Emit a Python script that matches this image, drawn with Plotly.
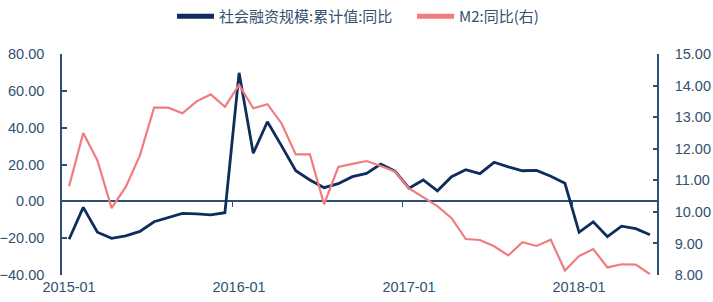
import plotly.graph_objects as go

months = [f"{y}-{m:02d}" for y in range(2015, 2019) for m in range(1, 13)][:42]
tick_labels = ["2015-01", "2016-01", "2017-01", "2018-01"]

tsf_yoy = [-20.6, -3.3, -16.8, -20.1, -18.7, -16.3, -11.1, -8.7, -6.5, -6.8,
           -7.4, -6.2, 69.8, 26.1, 43.2, 30.1, 16.6, 11.6, 7.4, 9.6,
           13.4, 15.2, 20.2, 16.4, 7.1, 11.6, 5.7, 13.4, 17.2, 15.0,
           21.2, 18.7, 16.6, 16.8, 13.6, 9.8, -16.8, -11.1, -19.2, -13.5,
           -14.8, -18.1]

m2_yoy = [10.81, 12.50, 11.63, 10.12, 10.79, 11.79, 13.30, 13.30, 13.12, 13.50,
          13.72, 13.33, 14.02, 13.28, 13.41, 12.80, 11.82, 11.82, 10.24, 11.42,
          11.52, 11.61, 11.45, 11.28, 10.74, 10.47, 10.18, 9.80, 9.14, 9.11,
          8.91, 8.62, 9.04, 8.92, 9.12, 8.14, 8.60, 8.82, 8.24, 8.34,
          8.33, 8.03]

name_tsf = "社会融资规模:累计值:同比"
name_m2 = "M2:同比(右)"

NAVY = "#0E2D5C"
PINK = "#F07C7E"
AXIS = "#2D5079"
TEXT = "#34506F"
NUMFONT = "Liberation Sans Narrow, Arial Narrow, Liberation Sans, Arial"
CJKFONT = "Noto Sans CJK SC, Liberation Sans, sans-serif"

idx = list(range(len(months)))
tick_idx = [months.index(t) for t in tick_labels]
boundary_idx = [i - 0.5 for i in tick_idx[1:]]

fig = go.Figure()
fig.add_trace(go.Scatter(x=idx, y=m2_yoy, mode="lines", name=name_m2,
                         line=dict(color=PINK, width=2.2), yaxis="y2",
                         showlegend=False, hoverinfo="skip"))
fig.add_trace(go.Scatter(x=idx, y=tsf_yoy, mode="lines", name=name_tsf,
                         line=dict(color=NAVY, width=2.8),
                         showlegend=False))
# legend entries with thicker swatches
fig.add_trace(go.Scatter(x=[None], y=[None], mode="lines", name=name_tsf,
                         line=dict(color=NAVY, width=5)))
fig.add_trace(go.Scatter(x=[None], y=[None], mode="lines", name=name_m2,
                         line=dict(color=PINK, width=5)))
# helper trace on overlay x-axis (tick marks on the zero line)
fig.add_trace(go.Scatter(x=[None], y=[None], xaxis="x2", showlegend=False,
                         hoverinfo="skip"))

fig.update_layout(
    width=713, height=302,
    margin=dict(l=62, r=56, t=54, b=27, autoexpand=False),
    paper_bgcolor="white", plot_bgcolor="white",
    showlegend=True,
    legend=dict(orientation="h", x=172 / 713, xref="container", y=1.0,
                yref="container", xanchor="left", yanchor="top",
                font=dict(family=CJKFONT, size=15, color=TEXT),
                itemwidth=37, entrywidth=188, tracegroupgap=0,
                bgcolor="rgba(0,0,0,0)"),
    xaxis=dict(range=[-0.5, len(months) - 0.5], tickmode="array",
               tickvals=tick_idx, ticktext=tick_labels, showline=False,
               ticks="", showgrid=False, zeroline=False, automargin=False,
               ticklabelstandoff=1,
               tickfont=dict(family=NUMFONT, size=14.5, color=TEXT)),
    xaxis2=dict(overlaying="x", anchor="free", position=1/3,
                range=[-0.5, len(months) - 0.5], tickmode="array",
                tickvals=boundary_idx, ticktext=["" for _ in boundary_idx],
                ticks="outside", ticklen=5, tickcolor=AXIS, tickwidth=1.2,
                showline=False, showgrid=False, zeroline=False,
                automargin=False),
    yaxis=dict(range=[-40, 80], dtick=20, tickformat=".2f", showgrid=False,
               zeroline=True, zerolinecolor=AXIS, zerolinewidth=1.6,
               showline=True, linecolor=AXIS, linewidth=1.6,
               ticks="inside", ticklen=5, tickcolor=AXIS, tickwidth=1.6,
               ticklabelstandoff=13, automargin=False,
               tickfont=dict(family=NUMFONT, size=14.5, color=TEXT)),
    yaxis2=dict(range=[8, 15], dtick=1, tickformat=".2f", overlaying="y",
                side="right", showgrid=False, zeroline=False,
                showline=True, linecolor=AXIS, linewidth=1.6,
                ticks="inside", ticklen=4, tickcolor=AXIS, tickwidth=1.6,
                ticklabelstandoff=13, automargin=False,
                tickfont=dict(family=NUMFONT, size=14.5, color=TEXT)),
)

fig.write_html("out.html")
